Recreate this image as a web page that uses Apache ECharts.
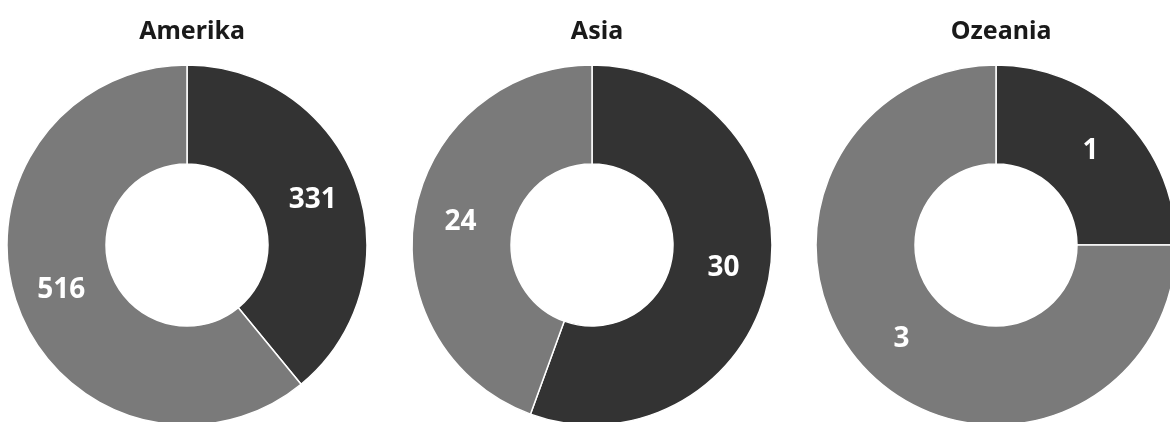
<!DOCTYPE html>
<html>
<head>
<meta charset="utf-8">
<script src="https://cdn.jsdelivr.net/npm/echarts@6/dist/echarts.min.js"></script>
<style>
html,body{margin:0;padding:0;background:#fff;}
#c{width:1170px;height:422px;}
</style>
</head>
<body>
<div id="c"></div>
<script>
const regions = ['Amerika', 'Asia', 'Ozeania'];
const darkValues = [331, 30, 1];
const lightValues = [516, 24, 3];
const centersX = [187, 592, 996];

const chart = echarts.init(document.getElementById('c'), null, {renderer: 'canvas'});
const titles = regions.map((r, i) => ({
  text: r,
  left: centersX[i],
  top: 14,
  textAlign: 'center',
  textStyle: {fontFamily: 'Noto Sans', fontWeight: 'bold', fontSize: 25, color: '#1a1a1a'}
}));
const series = regions.map((r, i) => ({
  type: 'pie',
  center: [centersX[i], 245],
  radius: [81, 180],
  startAngle: 90,
  clockwise: true,
  animation: false,
  silent: true,
  itemStyle: {borderColor: '#ffffff', borderWidth: 1.5},
  label: {
    show: true,
    position: 'inside',
    formatter: '{c}',
    color: '#ffffff',
    fontFamily: 'Noto Sans',
    fontWeight: 'bold',
    fontSize: 28
  },
  labelLine: {show: false},
  data: [
    {name: 'dark', value: darkValues[i], itemStyle: {color: '#333333'}},
    {name: 'light', value: lightValues[i], itemStyle: {color: '#7a7a7a'}}
  ]
}));
chart.setOption({
  backgroundColor: '#ffffff',
  title: titles,
  series: series
});
</script>
</body>
</html>
